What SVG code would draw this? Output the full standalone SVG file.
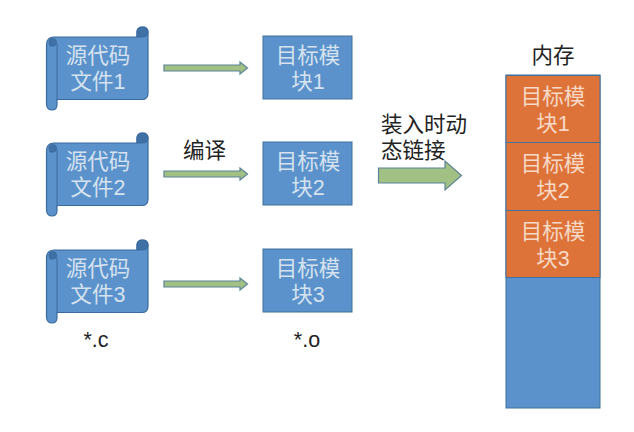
<svg xmlns="http://www.w3.org/2000/svg" width="634" height="432" viewBox="0 0 634 432">
<style>
text{font-family:"Liberation Sans","Noto Sans CJK SC",sans-serif}
.w{fill:#d5e2f0;font-size:21.500px;text-anchor:middle}
.wo{fill:#f6d9c6;font-size:21.500px;text-anchor:middle}
.k{fill:#222;font-size:21.500px}
.f{fill:#5b92cb;stroke:#3a6a9e;stroke-width:1.200}
.d{fill:#3f70a6;stroke:#3a6a9e;stroke-width:1}
.b{fill:#5b92cb;stroke:#41719c;stroke-width:1}
.o{fill:#de7339;stroke:#41719c;stroke-width:1}
.a{fill:#a1c184;stroke:#5d8496;stroke-width:1.200}
</style>
<defs>
<g id="scroll">
<path class="f" d="M46.500 45Q46.500 37 54 37H137V32Q137 27 142.500 27T148 32V93Q148 99.500 142 99.500H57V104.500Q57 110 52 110T46.500 104.500Z"/>
<path class="d" d="M137 37H142.500Q148 37 148 32Q148 27 142.500 27T137 32Z"/>
<path class="d" d="M49 42Q49 38.500 52.500 38.500T56.500 42T53 46H50Z"/>
<path fill="none" stroke="#3a6a9e" stroke-width="1" d="M57 99.500V44"/>
</g>
<path id="small" class="a" d="M164 65H240V62L247.500 68L240 74V71H164Z"/>
</defs>
<g id="connectors">
<use href="#small"/>
<use href="#small" y="106"/>
<use href="#small" y="216"/>
<path class="a" d="M378.500 168H445V161L461.500 175.500L445 190V183H378.500Z"/>
</g>
<g id="source1"><use href="#scroll"/><text class="w" x="98" y="63">源代码</text><text class="w" x="98" y="89">文件1</text></g>
<g id="source2"><use href="#scroll" y="106"/><text class="w" x="98" y="169">源代码</text><text class="w" x="98" y="195">文件2</text></g>
<g id="source3"><use href="#scroll" y="213"/><text class="w" x="98" y="276">源代码</text><text class="w" x="98" y="302">文件3</text></g>
<g id="object1"><rect class="b" x="263" y="36" width="89" height="63"/><text class="w" x="308" y="63">目标模</text><text class="w" x="308" y="89">块1</text></g>
<g id="object2"><rect class="b" x="263" y="142" width="89" height="63"/><text class="w" x="308" y="169">目标模</text><text class="w" x="308" y="195">块2</text></g>
<g id="object3"><rect class="b" x="263" y="249" width="89" height="63"/><text class="w" x="308" y="276">目标模</text><text class="w" x="308" y="302">块3</text></g>
<g id="memory">
<rect class="b" x="506" y="75" width="94" height="333"/>
<rect class="o" x="506" y="75.500" width="94" height="67"/>
<rect class="o" x="506" y="142.500" width="94" height="68"/>
<rect class="o" x="506" y="210.500" width="94" height="67"/>
<text class="wo" x="553" y="104">目标模</text><text class="wo" x="553" y="131">块1</text>
<text class="wo" x="553" y="171">目标模</text><text class="wo" x="553" y="198">块2</text>
<text class="wo" x="553" y="239">目标模</text><text class="wo" x="553" y="266">块3</text>
</g>
<g id="labels">
<text class="k" x="553" y="63" text-anchor="middle">内存</text>
<text class="k" x="183" y="158">编译</text>
<text class="k" x="381" y="132">装入时动</text>
<text class="k" x="381" y="158">态链接</text>
<text class="k" x="96" y="347" text-anchor="middle">*.c</text>
<text class="k" x="307" y="347" text-anchor="middle">*.o</text>
</g>
</svg>
